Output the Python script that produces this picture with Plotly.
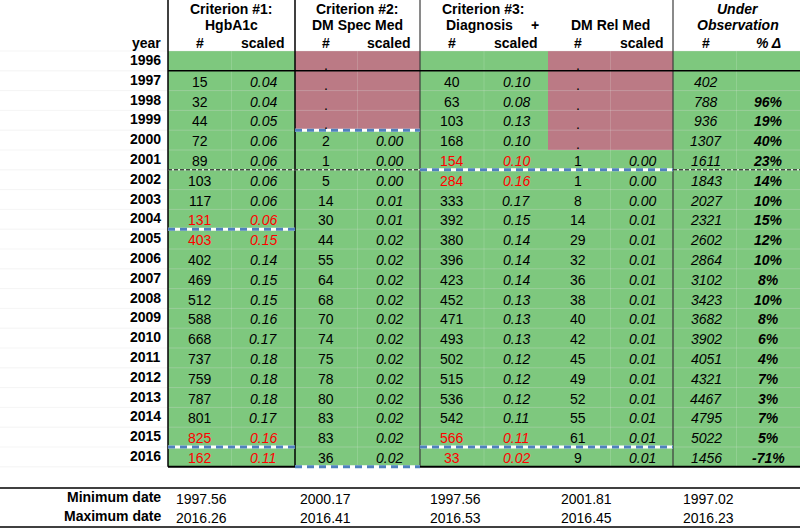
import plotly.graph_objects as go

# ---------------- data ----------------
years = list(range(1996, 2017))
crit1_n = [None, 15, 32, 44, 72, 89, 103, 117, 131, 403, 402, 469, 512, 588, 668, 737, 759, 787, 801, 825, 162]
crit1_s = [None, .04, .04, .05, .06, .06, .06, .06, .06, .15, .14, .15, .15, .16, .17, .18, .18, .18, .17, .16, .11]
crit1_red = [2004, 2005, 2015, 2016]

crit2_n = [".", ".", ".", ".", 2, 1, 5, 14, 30, 44, 55, 64, 68, 70, 74, 75, 78, 80, 83, 83, 36]
crit2_s = [None, None, None, None, .00, .00, .00, .01, .01, .02, .02, .02, .02, .02, .02, .02, .02, .02, .02, .02, .02]
crit2_red = []

crit3_n = [None, 40, 63, 103, 168, 154, 284, 333, 392, 380, 396, 423, 452, 471, 493, 502, 515, 536, 542, 566, 33]
crit3_s = [None, .10, .08, .13, .10, .10, .16, .17, .15, .14, .14, .14, .13, .13, .13, .12, .12, .12, .11, .11, .02]
crit3_red = [2001, 2002, 2015, 2016]

dmrel_n = [".", ".", ".", ".", ".", 1, 1, 8, 14, 29, 32, 36, 38, 40, 42, 45, 49, 52, 55, 61, 9]
dmrel_s = [None, None, None, None, None, .00, .00, .00, .01, .01, .01, .01, .01, .01, .01, .01, .01, .01, .01, .01, .01]
dmrel_red = []

obs_n = [None, 402, 788, 936, 1307, 1611, 1843, 2027, 2321, 2602, 2864, 3102, 3423, 3682, 3902, 4051, 4321, 4467, 4795, 5022, 1456]
obs_pct = [None, None, "96%", "19%", "40%", "23%", "14%", "10%", "15%", "12%", "10%", "8%", "10%", "8%", "6%", "4%", "7%", "3%", "7%", "5%", "-71%"]

min_dates = ["1997.56", "2000.17", "1997.56", "2001.81", "1997.02"]
max_dates = ["2016.26", "2016.41", "2016.53", "2016.45", "2016.23"]

# ---------------- layout geometry ----------------
W, H = 800, 528
ROW0, RH = 51, 19.8
col_edges = [168, 295, 420, 548, 673, 800]
num_x = [200, 326, 452, 578, 706]
scl_x = [263, 389, 516, 642, 768]
date_x = [201, 325, 455, 586, 708]
GREEN = "rgb(126,200,126)"
PINK = "rgb(187,122,133)"
BLUE = "rgb(79,129,189)"
FONT = "Liberation Sans, Arial, sans-serif"

def rtop(i):
    return ROW0 + i * RH

def rmid(i):
    return ROW0 + (i + 0.5) * RH

BOTTOM = rtop(len(years))

fig = go.Figure()
shapes = []
ann = []

def rect(x0, y0, x1, y1, color):
    shapes.append(dict(type="rect", xref="x", yref="y", x0=x0, x1=x1, y0=y0, y1=y1,
                       fillcolor=color, line=dict(width=0), layer="below"))

def line(x0, y0, x1, y1, color="black", width=1, dash=None):
    d = dict(color=color, width=width)
    if dash:
        d["dash"] = dash
    shapes.append(dict(type="line", xref="x", yref="y", x0=x0, x1=x1, y0=y0, y1=y1, line=d))

def dashed(x0, y, x1, color, width, pattern="7px,5px"):
    line(x0, y, x1, y, "white", width)
    line(x0, y, x1, y, color, width, pattern)

def text(x, y, s, size=14, color="black", bold=False, italic=False, anchor="center"):
    t = str(s)
    if bold:
        t = "<b>" + t + "</b>"
    if italic:
        t = "<i>" + t + "</i>"
    ann.append(dict(x=x, y=y, xref="x", yref="y", text=t, showarrow=False,
                    xanchor=anchor, yanchor="middle",
                    font=dict(family=FONT, size=size, color=color)))

# backgrounds
rect(col_edges[0], ROW0, W, BOTTOM, GREEN)
rect(col_edges[1], rtop(0), col_edges[2], rtop(4), PINK)
rect(col_edges[3], rtop(0), col_edges[4], rtop(5), PINK)

# faint grid lines
for i in range(len(years) + 1):
    line(0, rtop(i), W, rtop(i), "rgba(220,220,220,0.3)", 1)
for j in range(5):
    mx = (col_edges[j] + col_edges[j + 1]) / 2
    line(mx, ROW0, mx, BOTTOM, "rgba(235,245,235,0.18)", 1)

# structural lines
line(col_edges[0], 0, col_edges[0], BOTTOM, "black", 1.5)
line(col_edges[1], 0, col_edges[1], BOTTOM, "black", 1.5)
line(col_edges[2], 0, col_edges[2], BOTTOM, "rgb(60,60,60)", 1.2)
line(col_edges[4], 0, col_edges[4], BOTTOM, "rgb(60,60,60)", 1.2)
line(col_edges[0], rtop(1), W, rtop(1), "black", 1.5)
line(col_edges[0], BOTTOM, col_edges[1], BOTTOM, "black", 2)
line(col_edges[2], BOTTOM, W, BOTTOM, "black", 2)

# dashed markers
dashed(col_edges[1], rtop(4), col_edges[2], BLUE, 3)
dashed(col_edges[0], rtop(6), col_edges[2], "black", 1, "4px,2px")
dashed(col_edges[2], rtop(6), col_edges[4], BLUE, 3)
dashed(col_edges[4], rtop(6), W, "black", 1, "4px,2px")
dashed(col_edges[0], rtop(9), col_edges[1], BLUE, 3)
dashed(col_edges[0], rtop(20), col_edges[1], BLUE, 3)
dashed(col_edges[2], rtop(20), col_edges[4], BLUE, 3)
dashed(col_edges[1], BOTTOM, col_edges[2], BLUE, 3)

# headers
text(231, 9, "Criterion #1:", bold=True)
text(231, 25, "HgbA1c", bold=True)
text(357, 9, "Criterion #2:", bold=True)
text(357, 25, "DM Spec Med", bold=True)
text(483, 9, "Criterion #3:", bold=True)
text(479, 25, "Diagnosis", bold=True)
text(535, 25, "+", bold=True)
text(610, 25, "DM Rel Med", bold=True)
text(738, 9, "Under", bold=True, italic=True)
text(738, 25, "Observation", bold=True, italic=True)
text(163, 43, "year", bold=True, anchor="right")
for j in range(5):
    text(num_x[j], 43, "#", bold=True)
    text(scl_x[j] if j < 4 else 768, 43, "scaled" if j < 4 else "% Δ", bold=True, italic=(j == 4))

# body
groups = [(crit1_n, crit1_s, crit1_red), (crit2_n, crit2_s, crit2_red),
          (crit3_n, crit3_s, crit3_red), (dmrel_n, dmrel_s, dmrel_red)]
for i, yr in enumerate(years):
    y = rmid(i)
    text(163, y - 1, yr, bold=True, anchor="right")
    for j, (ns, ss, reds) in enumerate(groups):
        col = "red" if yr in reds else "black"
        n = ns[i]
        if n == ".":
            text(num_x[j], y + 4, ".", color=col)
        elif n is not None:
            text(num_x[j], y + 1, n, color=col)
        if ss[i] is not None:
            text(scl_x[j], y + 1, f"{ss[i]:.2f}", color=col, italic=True)
    if obs_n[i] is not None:
        text(num_x[4], y + 1, obs_n[i], italic=True)
    if obs_pct[i] is not None:
        text(scl_x[4], y + 1, obs_pct[i], bold=True, italic=True)

# bottom summary
line(0, 488, W, 488, "black", 1.5)
line(0, 527, W, 527, "black", 1.5)
text(163, 497, "Minimum date", bold=True, anchor="right")
text(163, 516, "Maximum date", bold=True, anchor="right")
for j in range(5):
    text(date_x[j], 499, min_dates[j])
    text(date_x[j], 518, max_dates[j])

fig.update_layout(
    width=W, height=H, autosize=False,
    margin=dict(l=0, r=0, t=0, b=0, pad=0),
    paper_bgcolor="white", plot_bgcolor="white",
    xaxis=dict(range=[0, W], visible=False, fixedrange=True),
    yaxis=dict(range=[H, 0], visible=False, fixedrange=True),
    shapes=shapes, annotations=ann, showlegend=False,
)
fig.write_html("out.html", config={"displayModeBar": False},
               post_script="document.body.style.margin='0';document.body.style.overflow='hidden';")
